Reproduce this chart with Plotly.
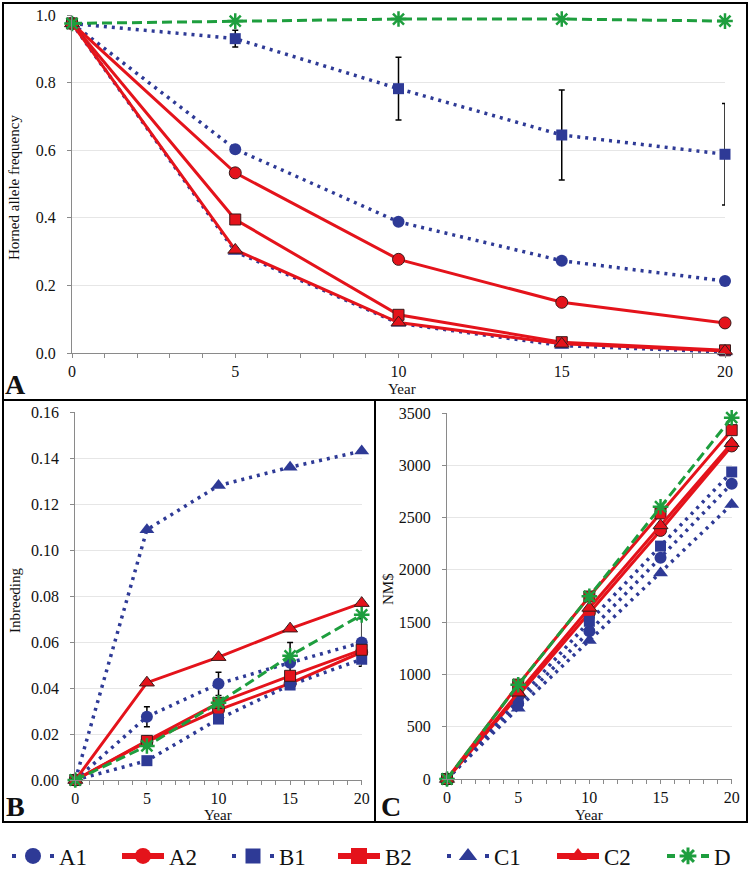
import plotly.graph_objects as go

# ---------------- data ----------------
years = [0, 5, 10, 15, 20]
series = ["A1", "A2", "B1", "B2", "C1", "C2", "D"]

# Panel A: horned allele frequency
horned_A1 = [0.975, 0.603, 0.388, 0.273, 0.213]
horned_A2 = [0.975, 0.533, 0.277, 0.150, 0.089]
horned_B1 = [0.975, 0.930, 0.782, 0.645, 0.588]
horned_B2 = [0.975, 0.395, 0.113, 0.032, 0.008]
horned_C1 = [0.975, 0.300, 0.088, 0.022, 0.003]
horned_C2 = [0.975, 0.305, 0.090, 0.027, 0.006]
horned_D = [0.975, 0.982, 0.988, 0.988, 0.982]
horned_B1_err = [0.0, 0.025, 0.093, 0.133, 0.150]

# Panel B: inbreeding
inb_A1 = [0.0, 0.0275, 0.0418, 0.0510, 0.0598]
inb_A2 = [0.0, 0.0167, 0.0305, 0.0420, 0.0556]
inb_B1 = [0.0, 0.0084, 0.0265, 0.0413, 0.0525]
inb_B2 = [0.0, 0.0170, 0.0335, 0.0453, 0.0566]
inb_C1 = [0.0, 0.1088, 0.1280, 0.1360, 0.1430]
inb_C2 = [0.0, 0.0423, 0.0534, 0.0658, 0.0769]
inb_D = [0.0, 0.0148, 0.0336, 0.0540, 0.0718]
inb_A1_err = [0.0, 0.0044, 0.0051, 0.0088, 0.0103]

# Panel C: NM$
nm_A1 = [0, 720, 1412, 2115, 2824]
nm_A2 = [0, 800, 1590, 2377, 3185]
nm_B1 = [0, 757, 1508, 2227, 2936]
nm_B2 = [0, 903, 1745, 2540, 3336]
nm_C1 = [0, 677, 1325, 1971, 2626]
nm_C2 = [0, 825, 1636, 2425, 3211]
nm_D = [0, 901, 1747, 2604, 3455]

horned = dict(A1=horned_A1, A2=horned_A2, B1=horned_B1, B2=horned_B2,
              C1=horned_C1, C2=horned_C2, D=horned_D)
inbreeding = dict(A1=inb_A1, A2=inb_A2, B1=inb_B1, B2=inb_B2,
                  C1=inb_C1, C2=inb_C2, D=inb_D)
nmd = dict(A1=nm_A1, A2=nm_A2, B1=nm_B1, B2=nm_B2,
           C1=nm_C1, C2=nm_C2, D=nm_D)

# ---------------- styles ----------------
BLUE = "#2E3A96"
RED = "#E4131B"
GREEN = "#1E9E3E"
OUT = "#3a1a1a"
FONT = "Liberation Serif, Times New Roman, serif"
DOT = "3px,5px"

style = {
    "A1": dict(color=BLUE, dash=DOT, width=3.5, symbol="circle", size=12, mline=0),
    "A2": dict(color=RED, dash="solid", width=3, symbol="circle", size=12, mline=1),
    "B1": dict(color=BLUE, dash=DOT, width=3.5, symbol="square", size=11, mline=0),
    "B2": dict(color=RED, dash="solid", width=3, symbol="square", size=11, mline=1),
    "C1": dict(color=BLUE, dash=DOT, width=3.5, symbol="triangle-up", size=13, mline=0),
    "C2": dict(color=RED, dash="solid", width=3, symbol="triangle-up", size=13, mline=1),
    "D": dict(color=GREEN, dash="10px,5px", width=3, symbol="asterisk-open", size=13, mline=2.5),
}

W, H = 750, 869

def px(xp):
    return xp / W

def py(yp):
    return 1 - yp / H

fig = go.Figure()

def add_panel(data, xa, ya, errs):
    for s in series:
        st = style[s]
        marker = dict(symbol=st["symbol"], size=st["size"], color=st["color"])
        if s == "D":
            marker["line"] = dict(color=st["color"], width=st["mline"])
        elif st["mline"]:
            marker["line"] = dict(color=OUT, width=st["mline"])
        else:
            marker["line"] = dict(width=0)
        kw = {}
        if s in errs:
            kw["error_y"] = dict(type="data", array=errs[s], color="black",
                                 thickness=1.5, width=3)
        fig.add_trace(go.Scatter(
            x=years, y=data[s], mode="lines+markers", name=s,
            line=dict(color=st["color"], dash=st["dash"], width=st["width"]),
            marker=marker, xaxis=xa, yaxis=ya, showlegend=False,
            cliponaxis=False, **kw))

add_panel(horned, "x", "y", {"B1": horned_B1_err})
add_panel(inbreeding, "x2", "y2", {"A1": inb_A1_err})
add_panel(nmd, "x3", "y3", {})

# legend-only traces, one small legend per series (placed along the bottom)
leg_size = {"A1": 17, "A2": 16, "B1": 15, "B2": 16, "C1": 17, "C2": 17, "D": 14}
leg_left = {"A1": 7, "A2": 117, "B1": 227, "B2": 333, "C1": 442, "C2": 552, "D": 662}
legend_layout = {}
for i, s in enumerate(series):
    st = style[s]
    marker = dict(symbol=st["symbol"], size=leg_size[s], color=st["color"], line=dict(width=0))
    if s == "D":
        marker = dict(symbol=st["symbol"], size=leg_size[s], color=st["color"],
                      line=dict(color=st["color"], width=3))
    if st["dash"] == "solid":
        ln = dict(color=st["color"], dash="solid", width=6)
    elif s == "D":
        ln = dict(color=st["color"], dash="8px,26px", width=4)
    else:
        ln = dict(color=st["color"], dash="4px,15px", width=4)
    lname = "legend" if i == 0 else f"legend{i + 1}"
    fig.add_trace(go.Scatter(
        x=[None], y=[None], mode="lines+markers", name=s, legend=lname,
        line=ln, marker=marker, xaxis="x", yaxis="y", showlegend=True))
    legend_layout[lname] = dict(
        orientation="h", x=px(leg_left[s]), y=py(856), xanchor="left", yanchor="middle",
        font=dict(family=FONT, size=23, color="#111"), itemwidth=42,
        bgcolor="rgba(0,0,0,0)", borderwidth=0)

GRID = "#E6E6E6"
AXC = "#8a8a8a"
tickfont = dict(family=FONT, size=16, color="#111")

def xax(domain, anchor):
    return dict(domain=domain, anchor=anchor, range=[0, 20], tickvals=years,
                ticks="outside", ticklen=4, tickcolor=AXC, showline=True,
                linecolor=AXC, linewidth=1, showgrid=False, zeroline=False,
                tickfont=tickfont, fixedrange=True, ticklabelstandoff=0,
                automargin=False,
                minor=dict(dtick=1, tick0=0, ticks="outside", ticklen=4, tickcolor=AXC, showgrid=False))

def yax(domain, anchor, rng, dtick, fmt):
    return dict(domain=domain, anchor=anchor, range=rng, dtick=dtick, tick0=0,
                tickformat=fmt, ticks="outside", ticklen=4, tickcolor=AXC,
                showline=True, linecolor=AXC, linewidth=1, showgrid=True,
                gridcolor=GRID, gridwidth=1, zeroline=False, tickfont=tickfont,
                ticklabelstandoff=8, fixedrange=True, automargin=False)

fig.update_layout(
    width=W, height=H, margin=dict(l=0, r=0, t=0, b=0, autoexpand=False),
    paper_bgcolor="white", plot_bgcolor="white",
    font=dict(family=FONT, color="#111"),
    xaxis=xax([72 / W, 725 / W], "y"),
    yaxis=yax([1 - 353 / H, 1 - 15 / H], "x", [0, 1.0], 0.2, ".1f"),
    xaxis2=xax([75.3 / W, 361.7 / W], "y2"),
    yaxis2=yax([1 - 780 / H, 1 - 412 / H], "x2", [0, 0.16], 0.02, ".2f"),
    xaxis3=xax([447 / W, 731.7 / W], "y3"),
    yaxis3=yax([1 - 779 / H, 1 - 413 / H], "x3", [0, 3500], 500, "d"),
    **legend_layout,
)

# frame
frame = dict(color="black", width=2)
fig.add_shape(type="rect", xref="paper", yref="paper", x0=px(3), x1=px(747), y0=py(822), y1=py(3), line=frame)
fig.add_shape(type="line", xref="paper", yref="paper", x0=px(3), x1=px(747), y0=py(400), y1=py(400), line=frame)
fig.add_shape(type="line", xref="paper", yref="paper", x0=px(375), x1=px(375), y0=py(822), y1=py(400), line=frame)

titlefont = dict(family=FONT, size=15, color="#111")

def ann(text, x, y, angle=0, font=titlefont):
    fig.add_annotation(text=text, xref="paper", yref="paper", x=px(x), y=py(y),
                       xanchor="center", yanchor="middle", showarrow=False,
                       textangle=angle, font=font)

ann("Horned allele frequency", 14, 188, -90)
ann("Year", 402, 389)
ann("Inbreeding", 15, 601, -90)
ann("Year", 218, 815)
ann("NM$", 388, 589, -90)
ann("Year", 589, 815)

labfont = dict(family=FONT, size=28, color="#111")
ann("<b>A</b>", 15, 384, 0, labfont)
ann("<b>B</b>", 15, 806, 0, labfont)
ann("<b>C</b>", 391, 806, 0, labfont)

fig.write_html("out.html", post_script="document.body.style.margin='0';",
               config={"displayModeBar": False})
